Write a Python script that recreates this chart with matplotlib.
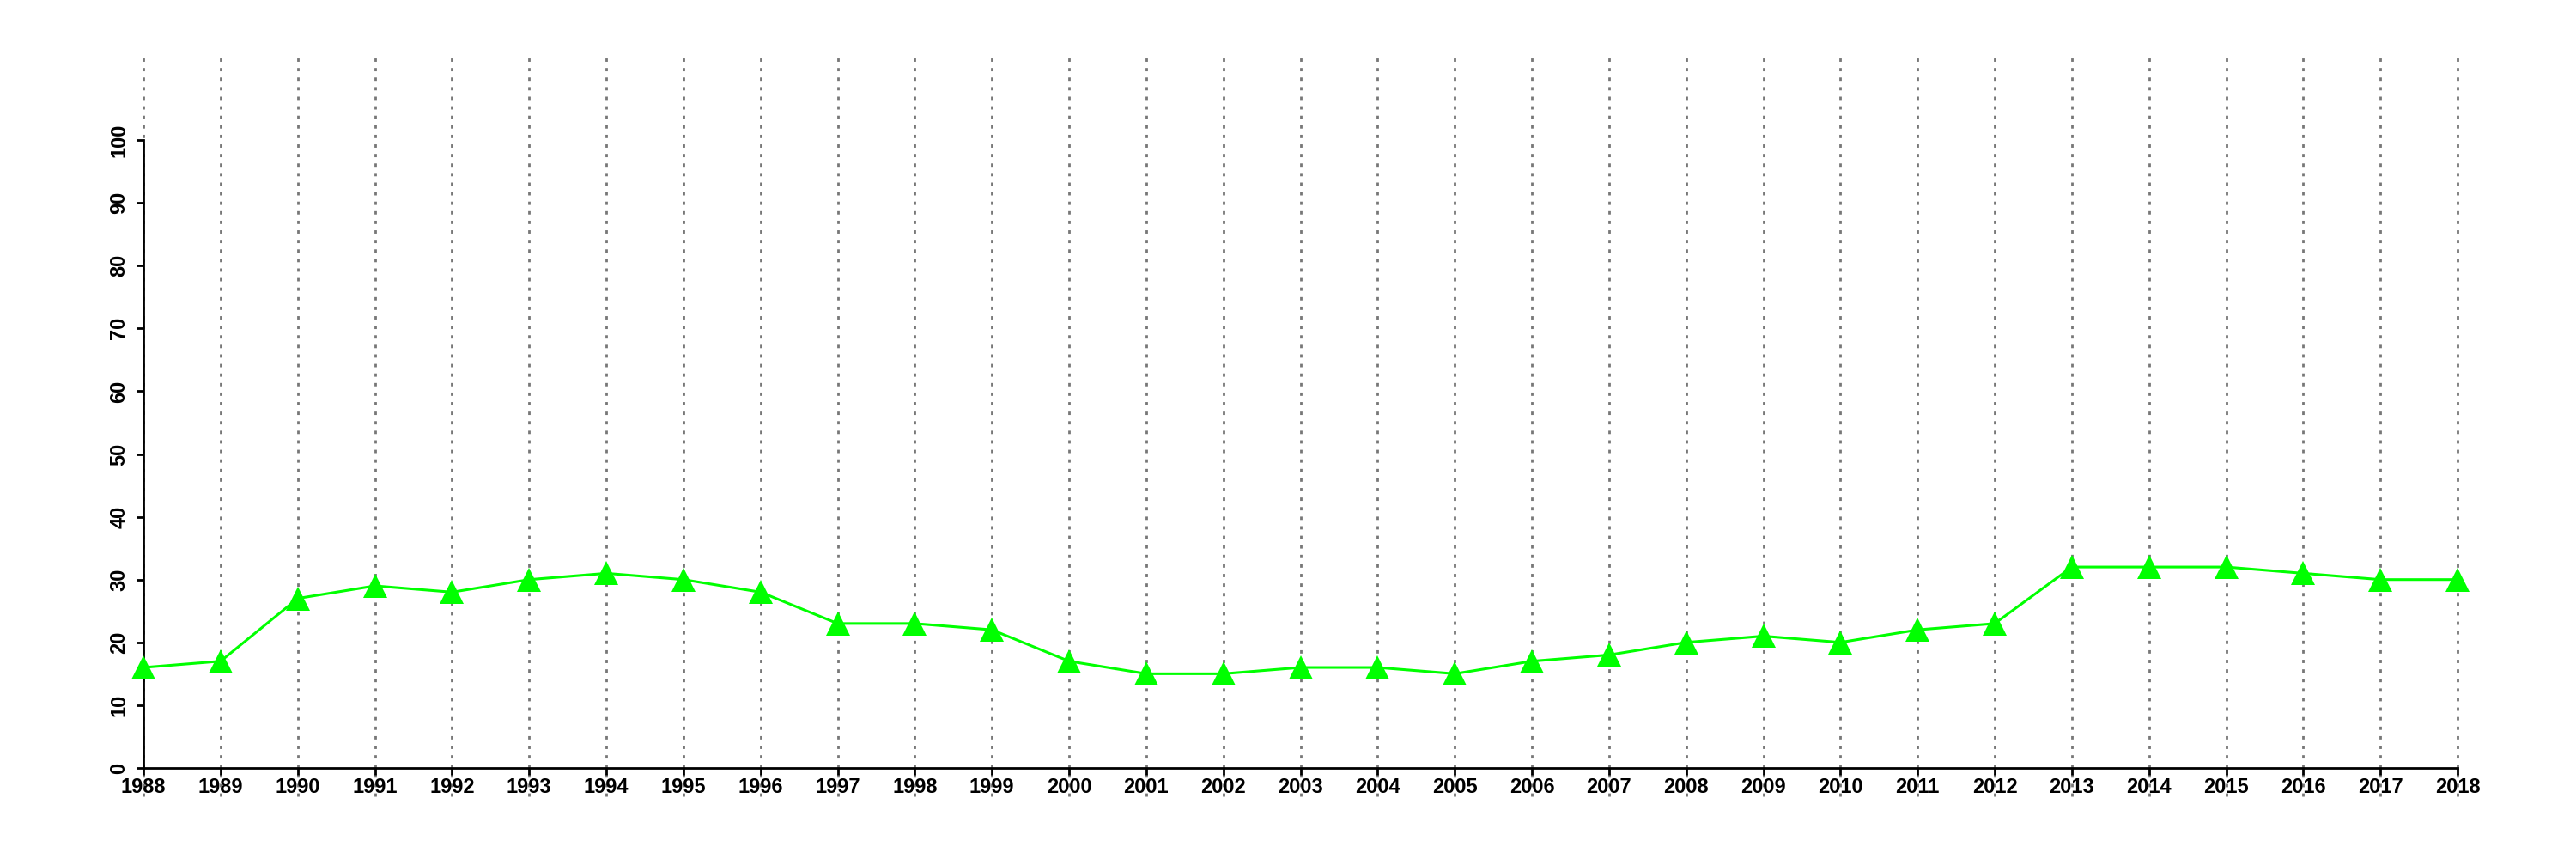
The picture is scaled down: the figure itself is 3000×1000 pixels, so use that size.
import matplotlib
matplotlib.use("Agg")
import matplotlib.pyplot as plt

years = list(range(1988, 2019))
values = [16, 17, 27, 29, 28, 30, 31, 30, 28, 23, 23, 22, 17, 15, 15, 16, 16, 15,
          17, 18, 20, 21, 20, 22, 23, 32, 32, 32, 31, 30, 30]
yticks = list(range(0, 101, 10))

plt.rcParams['font.family'] = ['Liberation Sans', 'DejaVu Sans']

fig = plt.figure(figsize=(30, 10), dpi=100)
ax = fig.add_axes([0.0557, 0.106, 0.8983, 0.731])

for yr in years:
    ax.axvline(yr, ymin=-0.045, ymax=1.141, color='#777777', linestyle=(0, (1.4, 2.6)),
               linewidth=2, clip_on=False, zorder=1)

ax.plot(years, values, color='#00ff00', linewidth=2.2, marker='^', markersize=20,
        markeredgewidth=0, clip_on=False, zorder=3)

ax.set_xlim(1988, 2018)
ax.set_ylim(0, 100)
ax.set_xticks(years)
ax.set_xticklabels([str(y) for y in years], fontsize=17, fontweight='bold')
ax.set_yticks(yticks)
ax.set_yticklabels([str(v) for v in yticks], fontsize=17, fontweight='bold',
                   rotation=90, va='center')
ax.tick_params(axis='both', length=6, width=2)
ax.tick_params(axis='x', pad=2)
ax.tick_params(axis='y', pad=6)
ax.spines['top'].set_visible(False)
ax.spines['right'].set_visible(False)
ax.spines['left'].set_linewidth(2)
ax.spines['bottom'].set_linewidth(2)

fig.savefig('out.png', dpi=100)
